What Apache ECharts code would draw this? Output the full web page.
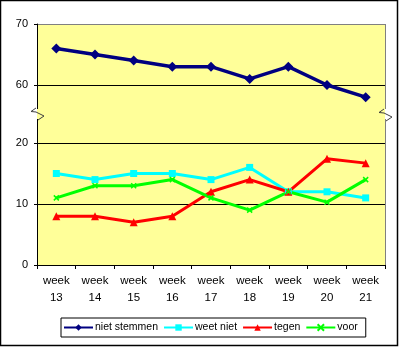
<!DOCTYPE html>
<html>
<head>
<meta charset="utf-8">
<script src="https://cdn.jsdelivr.net/npm/echarts@6/dist/echarts.min.js"></script>
<style>
  html, body { margin: 0; padding: 0; background: #fff; }
  #chart { width: 400px; height: 348px; }
</style>
</head>
<body>
<div id="chart"></div>
<script>
// Poll results per week (percentages)
const weeks = ['week 13', 'week 14', 'week 15', 'week 16', 'week 17', 'week 18', 'week 19', 'week 20', 'week 21'];
const nietStemmen = [66, 65, 64, 63, 63, 61, 63, 60, 58];
const weetNiet = [15, 14, 15, 15, 14, 16, 12, 12, 11];
const tegen = [8, 8, 7, 8, 12, 14, 12, 17.4, 16.7];
const voor = [11, 13, 13, 14, 11, 9, 12, 10.3, 14];

// Broken value axis: upper band and lower band tick labels
const upperTicks = [60, 70];
const lowerTicks = [0, 10, 20];

const FONT = '"Liberation Sans", Arial, sans-serif';
const PLOT = { left: 37, right: 385, top: 24, bottom: 265 };
const UPPER_BOTTOM = 85;
const LOWER_TOP = 143;

const chart = echarts.init(document.getElementById('chart'), null, { renderer: 'canvas' });

const xSymbol = 'path://M0,0L10,10M10,0L0,10';

function valueAxis(gridIndex, ticks, splitColors) {
  return {
    gridIndex: gridIndex,
    type: 'value',
    min: ticks[0],
    max: ticks[ticks.length - 1],
    interval: ticks[1] - ticks[0],
    axisLine: { show: true, lineStyle: { color: '#000', width: 1 } },
    axisTick: { show: true, length: 3, lineStyle: { color: '#000', width: 1 } },
    axisLabel: { color: '#000', fontSize: 11, fontFamily: FONT, margin: 9 },
    splitLine: { show: true, lineStyle: { color: splitColors, width: 1 } }
  };
}

// Zigzag break mark centred on an axis edge
function breakMark(cx, cy) {
  return {
    type: 'polyline',
    z: 100,
    shape: { points: [[cx - 1, cy - 6], [cx - 6, cy - 2.5], [cx - 1, cy - 2], [cx + 7, cy + 2], [cx + 1, cy + 6]] },
    style: { stroke: '#404040', lineWidth: 1, fill: null }
  };
}

const breakY = 114;

const option = {
  animation: false,
  backgroundColor: '#fff',
  textStyle: { fontFamily: FONT },
  grid: [
    { left: PLOT.left, right: 400 - PLOT.right, top: PLOT.top, height: UPPER_BOTTOM - PLOT.top },
    { left: PLOT.left, right: 400 - PLOT.right, top: LOWER_TOP, height: PLOT.bottom - LOWER_TOP }
  ],
  xAxis: [
    { gridIndex: 0, type: 'category', data: weeks, boundaryGap: true, show: false },
    {
      gridIndex: 1, type: 'category', data: weeks, boundaryGap: true,
      axisLine: { show: true, lineStyle: { color: '#000', width: 1 } },
      axisTick: { show: true, length: 4, lineStyle: { color: '#000', width: 1 } },
      axisLabel: {
        color: '#000', fontSize: 11.5, fontFamily: FONT, lineHeight: 17, margin: 7, interval: 0,
        formatter: v => v.replace(' ', '\n')
      },
      splitLine: { show: false }
    }
  ],
  yAxis: [
    valueAxis(0, upperTicks, ['#000', '#808080']),
    valueAxis(1, lowerTicks, ['#000'])
  ],
  legend: {
    left: 61, top: 318,
    padding: [4, 8, 4, 2],
    itemGap: 5,
    itemWidth: 29,
    itemHeight: 8,
    borderColor: '#000',
    borderWidth: 1,
    textStyle: { color: '#000', fontSize: 10.5, fontFamily: FONT, padding: [0, 0, 0, -3] },
    data: ['niet stemmen', 'weet niet', 'tegen', 'voor']
  },
  series: [
    {
      name: 'niet stemmen', type: 'line', xAxisIndex: 0, yAxisIndex: 0, data: nietStemmen,
      clip: false,
      symbol: 'diamond', symbolSize: 10, showAllSymbol: true,
      lineStyle: { color: '#000080', width: 3.5 },
      itemStyle: { color: '#000080' }
    },
    {
      name: 'weet niet', type: 'line', xAxisIndex: 1, yAxisIndex: 1, data: weetNiet,
      symbol: 'rect', symbolSize: 7, showAllSymbol: true,
      lineStyle: { color: '#00FFFF', width: 3 },
      itemStyle: { color: '#00FFFF' }
    },
    {
      name: 'tegen', type: 'line', xAxisIndex: 1, yAxisIndex: 1, data: tegen,
      symbol: 'triangle', symbolSize: 8, showAllSymbol: true,
      lineStyle: { color: '#FF0000', width: 3 },
      itemStyle: { color: '#FF0000' }
    },
    {
      name: 'voor', type: 'line', xAxisIndex: 1, yAxisIndex: 1, data: voor,
      symbol: xSymbol, symbolSize: 5, showAllSymbol: true,
      lineStyle: { color: '#00FF00', width: 3 },
      itemStyle: { color: '#00FF00', borderColor: '#00FF00', borderWidth: 1.5 }
    }
  ],
  graphic: {
    elements: [
      // plot background
      {
        type: 'rect', z: -10, silent: true,
        shape: { x: PLOT.left, y: PLOT.top, width: PLOT.right - PLOT.left, height: PLOT.bottom - PLOT.top },
        style: { fill: '#FFFF99' }
      },
      // left axis through the break
      {
        type: 'line', z: 50, shape: { x1: PLOT.left + 0.5, y1: UPPER_BOTTOM, x2: PLOT.left + 0.5, y2: breakY - 5 },
        style: { stroke: '#000', lineWidth: 1 }
      },
      {
        type: 'line', z: 50, shape: { x1: PLOT.left + 0.5, y1: breakY + 5, x2: PLOT.left + 0.5, y2: LOWER_TOP },
        style: { stroke: '#000', lineWidth: 1 }
      },
      // right plot border
      {
        type: 'line', z: 50, shape: { x1: PLOT.right + 0.5, y1: PLOT.top, x2: PLOT.right + 0.5, y2: breakY - 5 },
        style: { stroke: '#808080', lineWidth: 1 }
      },
      {
        type: 'line', z: 50, shape: { x1: PLOT.right + 0.5, y1: breakY + 5, x2: PLOT.right + 0.5, y2: PLOT.bottom },
        style: { stroke: '#808080', lineWidth: 1 }
      },
      breakMark(PLOT.left, breakY),
      breakMark(PLOT.right, breakY + 1),
      // chart frame
      {
        type: 'rect', z: 100, silent: true,
        shape: { x: 0.5, y: 0.5, width: 397, height: 345 },
        style: { fill: null, stroke: '#000', lineWidth: 1.5 }
      }
    ]
  }
};

chart.setOption(option);
</script>
</body>
</html>
